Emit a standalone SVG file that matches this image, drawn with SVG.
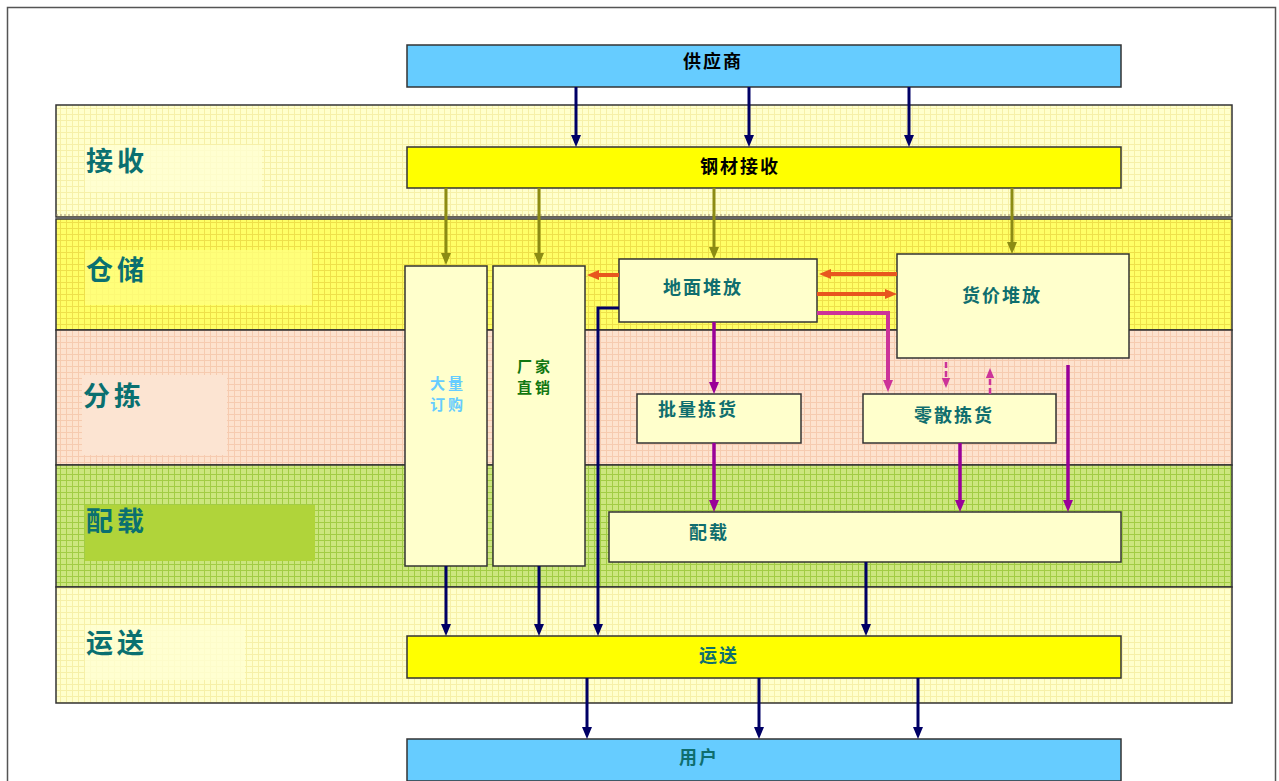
<svg xmlns="http://www.w3.org/2000/svg" width="1279" height="781" viewBox="0 0 1279 781">
<style>
.box{fill:#FFFFCC;stroke:#333;stroke-width:1.5}
.blue{fill:#66CCFF;stroke:#333;stroke-width:1.5}
.yel{fill:#FFFF00;stroke:#333;stroke-width:1.5}
.lane{stroke:#333;stroke-width:1.5}
.lbl{font-family:"Noto Sans CJK SC",sans-serif;font-weight:bold;font-size:27px;fill:#0A7070;letter-spacing:4px}
.t{font-family:"Noto Sans CJK SC",sans-serif;font-weight:bold;font-size:18px;fill:#0F6E6E;letter-spacing:2px}
.tb{font-family:"Noto Sans CJK SC",sans-serif;font-weight:bold;font-size:18px;fill:#000;letter-spacing:2px}
.tv{font-family:"Noto Sans CJK SC",sans-serif;font-weight:bold;font-size:15px;letter-spacing:3px}
.c{fill:none}
.n{stroke:#000066;stroke-width:3}
.o{stroke:#8C8C14;stroke-width:3}
.r{stroke:#E8561E;stroke-width:4}
.m{stroke:#CC3399;stroke-width:4}
.p{stroke:#990099;stroke-width:3.5}
.d{stroke:#CC3399;stroke-width:2.5;stroke-dasharray:6 3}
</style>
<defs>
<pattern id="g1" width="6" height="6" patternUnits="userSpaceOnUse"><rect width="6" height="6" fill="#FFFFCC"/><path d="M0,0.5H6M0.5,0V6" stroke="#F6F0A8" stroke-width="1"/></pattern>
<pattern id="g2" width="6" height="6" patternUnits="userSpaceOnUse"><rect width="6" height="6" fill="#FFFF66"/><path d="M0,0.5H6M0.5,0V6" stroke="#EEE04A" stroke-width="1"/></pattern>
<pattern id="g3" width="6" height="6" patternUnits="userSpaceOnUse"><rect width="6" height="6" fill="#FDE2CE"/><path d="M0,0.5H6M0.5,0V6" stroke="#F6CBB0" stroke-width="1"/></pattern>
<pattern id="g4" width="6" height="6" patternUnits="userSpaceOnUse"><rect width="6" height="6" fill="#CCE67E"/><path d="M0,0.5H6M0.5,0V6" stroke="#A2CC44" stroke-width="1"/></pattern>
<marker id="aN" viewBox="0 0 12 10" refX="6" refY="5" markerWidth="12" markerHeight="10" markerUnits="userSpaceOnUse" orient="auto"><path d="M0,0L12,5L0,10z" fill="#000066"/></marker>
<marker id="aO" viewBox="0 0 12 10" refX="6" refY="5" markerWidth="12" markerHeight="12" markerUnits="userSpaceOnUse" orient="auto"><path d="M0,0L12,5L0,10z" fill="#8C8C14"/></marker>
<marker id="aR" viewBox="0 0 12 10" refX="6" refY="5" markerWidth="12" markerHeight="12" markerUnits="userSpaceOnUse" orient="auto"><path d="M0,0L12,5L0,10z" fill="#E8561E"/></marker>
<marker id="aM" viewBox="0 0 12 10" refX="6" refY="5" markerWidth="12" markerHeight="12" markerUnits="userSpaceOnUse" orient="auto"><path d="M0,0L12,5L0,10z" fill="#CC3399"/></marker>
<marker id="aP" viewBox="0 0 12 10" refX="6" refY="5" markerWidth="12" markerHeight="12" markerUnits="userSpaceOnUse" orient="auto"><path d="M0,0L12,5L0,10z" fill="#990099"/></marker>
<marker id="aD" viewBox="0 0 12 10" refX="6" refY="5" markerWidth="10" markerHeight="10" markerUnits="userSpaceOnUse" orient="auto"><path d="M0,0L12,5L0,10z" fill="#CC3399"/></marker>
</defs>
<rect x="0" y="0" width="1279" height="781" fill="#fff"/>
<rect x="7.5" y="7.5" width="1268" height="790" fill="#fff" stroke="#555" stroke-width="1.5"/>
<g id="lanes">
<rect class="lane" x="56" y="105" width="1176" height="112" fill="url(#g1)"/>
<rect class="lane" x="56" y="219" width="1176" height="111" fill="url(#g2)"/>
<rect class="lane" x="56" y="330" width="1176" height="135" fill="url(#g3)"/>
<rect class="lane" x="56" y="465" width="1176" height="122" fill="url(#g4)"/>
<rect class="lane" x="56" y="587" width="1176" height="116" fill="url(#g1)"/>
<line x1="56" y1="215" x2="1232" y2="215" stroke="#A09070" stroke-width="1" stroke-dasharray="2 2"/>
<rect x="85" y="145" width="177" height="47" fill="#FFFFD2" opacity="0.8"/>
<rect x="85" y="250" width="227" height="55" fill="#FFFF80" opacity="0.8"/>
<rect x="82" y="375" width="145" height="80" fill="#FCE4D2"/>
<rect x="85" y="505" width="230" height="56" fill="#B0D43A"/>
<rect x="85" y="625" width="160" height="55" fill="#FFFFD2" opacity="0.8"/>
<text class="lbl" x="86" y="171">接收</text>
<text class="lbl" x="86" y="280">仓储</text>
<text class="lbl" x="83" y="406">分拣</text>
<text class="lbl" x="86" y="531">配载</text>
<text class="lbl" x="86" y="653">运送</text>
</g>
<g id="supplier"><rect class="blue" x="407" y="45" width="714" height="42"/><text class="tb" x="683" y="68">供应商</text></g>
<g id="receive"><rect class="yel" x="407" y="147" width="714" height="41"/><text class="tb" x="700" y="173">钢材接收</text></g>
<g id="bulk"><rect class="box" x="405" y="266" width="82" height="300"/><text class="tv" style="fill:#66CCFF"><tspan x="430" y="389">大量</tspan><tspan x="430" y="410">订购</tspan></text></g>
<g id="direct"><rect class="box" x="493" y="266" width="92" height="300"/><text class="tv" style="fill:#117711"><tspan x="517" y="372">厂家</tspan><tspan x="517" y="393">直销</tspan></text></g>
<g id="ground"><rect class="box" x="619" y="259" width="198" height="63"/><text class="t" x="663" y="294">地面堆放</text></g>
<g id="rack"><rect class="box" x="897" y="254" width="232" height="104"/><text class="t" x="962" y="302">货价堆放</text></g>
<g id="batch"><rect class="box" x="637" y="394" width="164" height="49"/><text class="t" x="658" y="416">批量拣货</text></g>
<g id="piece"><rect class="box" x="863" y="394" width="193" height="49"/><text class="t" x="914" y="422">零散拣货</text></g>
<g id="load"><rect class="box" x="609" y="512" width="512" height="50"/><text class="t" x="689" y="539">配载</text></g>
<g id="ship"><rect class="yel" x="407" y="636" width="714" height="42"/><text class="t" x="699" y="662">运送</text></g>
<g id="user"><rect class="blue" x="407" y="739" width="714" height="42"/><text class="t" x="679" y="764">用户</text></g>
<g id="connectors">
<path class="c n" marker-end="url(#aN)" d="M576,87V141"/>
<path class="c n" marker-end="url(#aN)" d="M749,87V141"/>
<path class="c n" marker-end="url(#aN)" d="M909,87V141"/>
<path class="c o" marker-end="url(#aO)" d="M446,188V259"/>
<path class="c o" marker-end="url(#aO)" d="M539,188V259"/>
<path class="c o" marker-end="url(#aO)" d="M714,188V253"/>
<path class="c o" marker-end="url(#aO)" d="M1012,188V248"/>
<path class="c r" marker-end="url(#aR)" d="M619,275H593"/>
<path class="c r" marker-end="url(#aR)" d="M897,274H825"/>
<path class="c r" marker-end="url(#aR)" d="M817,294H891"/>
<path class="c m" marker-end="url(#aM)" d="M817,313H888V386"/>
<path class="c p" marker-end="url(#aP)" d="M714,322V388"/>
<path class="c p" marker-end="url(#aP)" d="M714,443V506"/>
<path class="c p" marker-end="url(#aP)" d="M960,443V506"/>
<path class="c p" marker-end="url(#aP)" d="M1068,365V506"/>
<path class="c d" marker-end="url(#aD)" d="M946,362V383"/>
<path class="c d" marker-end="url(#aD)" d="M990,394V373"/>
<path class="c n" marker-end="url(#aN)" d="M446,566V630"/>
<path class="c n" marker-end="url(#aN)" d="M539,566V630"/>
<path class="c n" marker-end="url(#aN)" d="M619,308H598V630"/>
<path class="c n" marker-end="url(#aN)" d="M866,562V630"/>
<path class="c n" marker-end="url(#aN)" d="M587,678V733"/>
<path class="c n" marker-end="url(#aN)" d="M759,678V733"/>
<path class="c n" marker-end="url(#aN)" d="M918,678V733"/>
</g>
</svg>
